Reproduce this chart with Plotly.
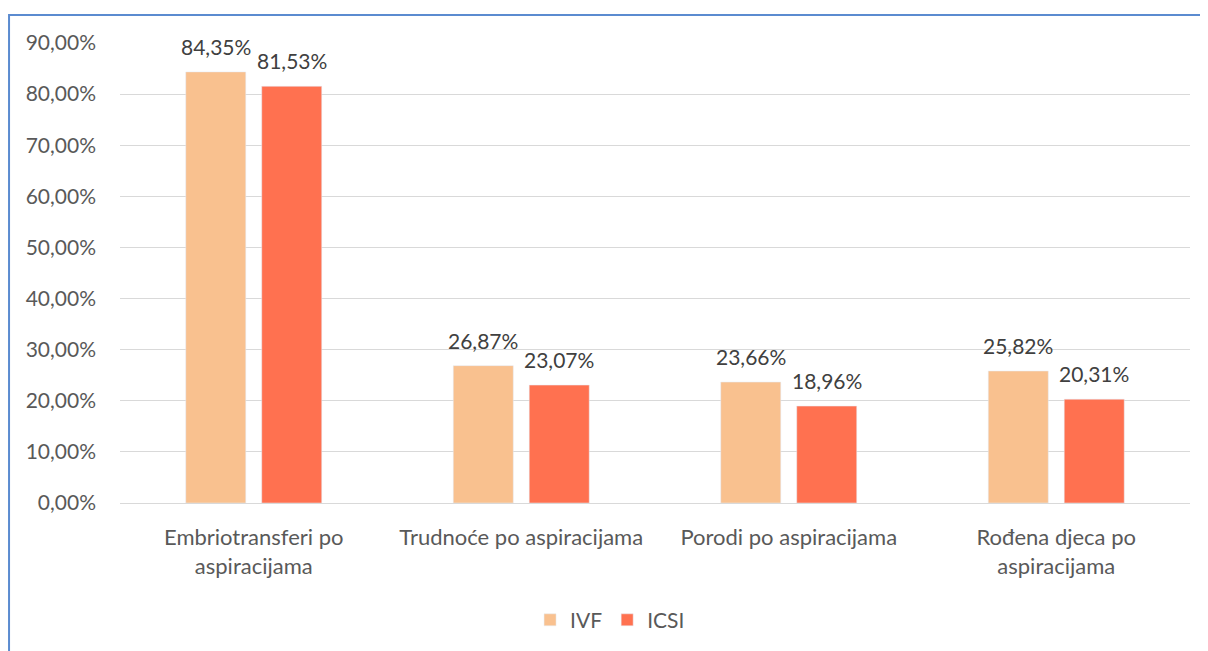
import plotly.graph_objects as go

categories = ["Embriotransferi po<br>aspiracijama", "Trudnoće po aspiracijama",
              "Porodi po aspiracijama", "Rođena djeca po<br>aspiracijama"]
ivf = [0.8435, 0.2687, 0.2366, 0.2582]
icsi = [0.8153, 0.2307, 0.1896, 0.2031]
y_ticks = [0, 0.1, 0.2, 0.3, 0.4, 0.5, 0.6, 0.7, 0.8, 0.9]

FONT = "Lato, 'Open Sans', sans-serif"
IVF_COLOR = "#F9C18F"
ICSI_COLOR = "#FF7150"


def pct(v):
    return f"{v * 100:.2f}%".replace(".", ",")


fig = go.Figure()
fig.add_trace(go.Bar(name="IVF", x=categories, y=ivf, marker_color=IVF_COLOR))
fig.add_trace(go.Bar(name="ICSI", x=categories, y=icsi, marker_color=ICSI_COLOR))

annotations = []
for series, shift in ((ivf, -38), (icsi, 38)):
    for cat, v in zip(categories, series):
        annotations.append(dict(x=cat, y=v, xref="x", yref="y", text=pct(v),
                                showarrow=False, xanchor="center", yanchor="bottom",
                                xshift=shift, yshift=11,
                                font=dict(size=21, color="#404040", family=FONT)))

fig.update_layout(
    width=1200, height=643,
    margin=dict(l=112, r=18, t=35, b=147),
    paper_bgcolor="white", plot_bgcolor="white",
    separators=", ",
    barmode="group", bargap=0.432, bargroupgap=0.21,
    font=dict(family=FONT, color="#595959", size=21),
    showlegend=True,
    legend=dict(orientation="h", x=0.458, xanchor="center", y=-0.252, yanchor="middle",
                font=dict(size=21, color="#595959"), traceorder="normal"),
    xaxis=dict(showgrid=False, showline=True, linecolor="#D9D9D9", linewidth=1,
               ticks="", ticklabelstandoff=15, tickfont=dict(size=22, color="#595959")),
    yaxis=dict(range=[0, 0.9], tickvals=y_ticks, tickformat=".2%",
               showgrid=True, gridcolor="#D9D9D9", gridwidth=1,
               zeroline=False, showline=False, ticks="", ticklabelstandoff=23,
               tickfont=dict(size=21, color="#595959")),
    annotations=annotations,
    shapes=[dict(type="rect", xref="paper", yref="paper",
                 x0=-0.1037, x1=1.1, y0=-0.5, y1=1.0607,
                 line=dict(color="#5B8BD0", width=2), fillcolor="rgba(0,0,0,0)",
                 layer="below")],
)

fig.write_html("out.html")
